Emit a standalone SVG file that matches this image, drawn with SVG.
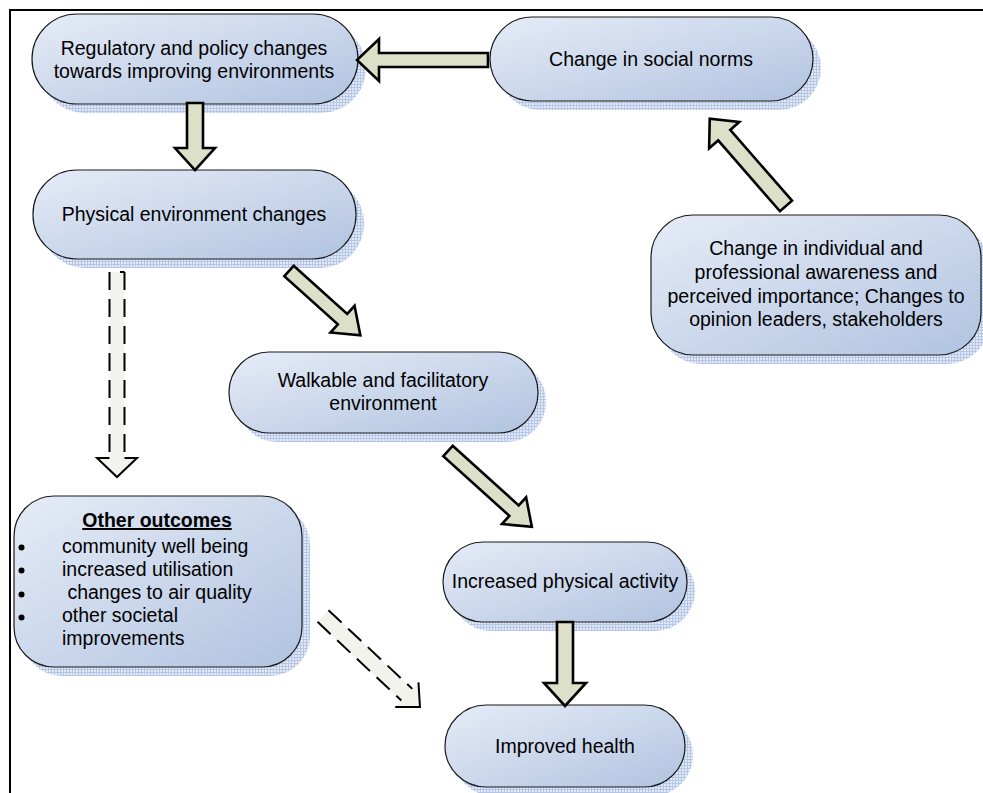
<svg xmlns="http://www.w3.org/2000/svg" width="983" height="793" viewBox="0 0 983 793">
<style>
.node{fill:url(#grad);stroke:#1a1a1a;stroke-width:1.2}
.shadow{fill:url(#hatch);opacity:0.8}
.t{font-family:"Liberation Sans",Arial,sans-serif;font-size:19.5px;fill:#000;text-anchor:middle}
.tl{font-family:"Liberation Sans",Arial,sans-serif;font-size:19.5px;fill:#000}
.bullet{fill:#000}
.arrow{fill:#dde0c8;stroke:#000;stroke-width:2.6;stroke-linejoin:miter}
.dfill{fill:#f3f3ee;stroke:none}
.dside{fill:none;stroke:#000;stroke-width:2;stroke-dasharray:18 9}
.dhead{fill:none;stroke:#000;stroke-width:2}
.frame{stroke:#000;stroke-width:2;fill:none}
</style>
<defs>
<linearGradient id="grad" x1="0" y1="0" x2="1" y2="1">
<stop offset="0" stop-color="#e6ecf7"/>
<stop offset="1" stop-color="#b1c3e0"/>
</linearGradient>
<pattern id="hatch" width="3" height="3" patternUnits="userSpaceOnUse">
<rect width="3" height="3" fill="#d9e2f4"/>
<rect width="3" height="1" fill="#a3b8e1"/>
<rect width="1" height="3" fill="#a3b8e1"/>
</pattern>
</defs>
<rect width="983" height="793" fill="#fff"/>
<path class="frame" d="M10,793 L10,10 L983,10"/>

<g id="n1">
<rect class="shadow" x="40" y="23" width="326" height="90" rx="45"/>
<rect class="node" x="32" y="14" width="326" height="90" rx="45"/>
<text class="t" x="194" y="55">Regulatory and policy changes</text>
<text class="t" x="194" y="78">towards improving environments</text>
</g>
<g id="n2">
<rect class="shadow" x="498" y="26" width="323" height="84" rx="42"/>
<rect class="node" x="490" y="17" width="323" height="84" rx="42"/>
<text class="t" x="651" y="66">Change in social norms</text>
</g>
<g id="n3">
<rect class="shadow" x="41" y="179" width="323" height="89" rx="44"/>
<rect class="node" x="33" y="170" width="323" height="89" rx="44"/>
<text class="t" x="194" y="221">Physical environment changes</text>
</g>
<g id="n4">
<rect class="shadow" x="237" y="361" width="309" height="81" rx="40"/>
<rect class="node" x="229" y="352" width="309" height="81" rx="40"/>
<text class="t" x="383" y="387">Walkable and facilitatory</text>
<text class="t" x="383" y="410">environment</text>
</g>
<g id="n5">
<rect class="shadow" x="659" y="224" width="330" height="140" rx="42"/>
<rect class="node" x="651" y="215" width="330" height="140" rx="42"/>
<text class="t" x="816" y="255">Change in individual and</text>
<text class="t" x="816" y="279">professional awareness and</text>
<text class="t" x="816" y="303">perceived importance; Changes to</text>
<text class="t" x="816" y="326">opinion leaders, stakeholders</text>
</g>
<g id="n6">
<rect class="shadow" x="22" y="505" width="288" height="171" rx="40"/>
<rect class="node" x="14" y="496" width="288" height="171" rx="40"/>
<text class="t" x="157" y="527" font-weight="bold" text-decoration="underline">Other outcomes</text>
<circle class="bullet" cx="21.5" cy="547.5" r="3"/>
<circle class="bullet" cx="21.5" cy="570.5" r="3"/>
<circle class="bullet" cx="21.5" cy="594.5" r="3"/>
<circle class="bullet" cx="21.5" cy="617.5" r="3"/>
<text class="tl" x="62" y="553">community well being</text>
<text class="tl" x="62" y="576">increased utilisation</text>
<text class="tl" x="62" y="599" xml:space="preserve"> changes to air quality</text>
<text class="tl" x="62" y="622">other societal</text>
<text class="tl" x="62" y="645">improvements</text>
</g>
<g id="n7">
<rect class="shadow" x="451" y="551" width="244" height="80" rx="40"/>
<rect class="node" x="443" y="542" width="244" height="80" rx="40"/>
<text class="t" x="565" y="588">Increased physical activity</text>
</g>
<g id="n8">
<rect class="shadow" x="453" y="714" width="240" height="82" rx="41"/>
<rect class="node" x="445" y="705" width="240" height="82" rx="41"/>
<text class="t" x="565" y="753">Improved health</text>
</g>

<g id="connectors">
<path class="arrow" transform="translate(195,103) rotate(90)" d="M0,-8 L45,-8 L45,-20 L67,0 L45,20 L45,8 L0,8 Z"/>
<path class="arrow" transform="translate(488,60) rotate(180)" d="M0,-7 L109,-7 L109,-21 L131,0 L109,21 L109,7 L0,7 Z"/>
<path class="arrow" transform="translate(786,206) rotate(-131.1)" d="M0,-8 L94,-8 L94,-20 L116,0 L94,20 L94,8 L0,8 Z"/>
<path class="arrow" transform="translate(289,271) rotate(42)" d="M0,-7 L72,-7 L72,-18 L96,0 L72,18 L72,7 L0,7 Z"/>
<path class="arrow" transform="translate(448,451) rotate(42.1)" d="M0,-7 L89,-7 L89,-18 L113,0 L89,18 L89,7 L0,7 Z"/>
<path class="arrow" transform="translate(565,622) rotate(90)" d="M0,-8 L61,-8 L61,-21 L84,0 L61,21 L61,8 L0,8 Z"/>
<g transform="translate(117,272) rotate(90)">
<path class="dfill" d="M0,-7.5 L186,-7.5 L186,-20 L205,0 L186,20 L186,7.5 L0,7.5 Z"/>
<path class="dside" d="M0,7.5 L186,7.5 M0,-7.5 L186,-7.5"/>
<path class="dhead" d="M0,-7.5 L0,-3 M186,-7.5 L186,-20 L205,0 L186,20 L186,7.5"/>
</g>
<g transform="translate(323,616) rotate(43.2)">
<path class="dfill" d="M0,-8 L115,-8 L115,-17 L133,0 L115,17 L115,8 L0,8 Z"/>
<path class="dside" d="M0,-8 L115,-8 M0,8 L115,8"/>
<path class="dhead" d="M115,-17 L133,0 L115,17"/>
</g>
</g>
</svg>
